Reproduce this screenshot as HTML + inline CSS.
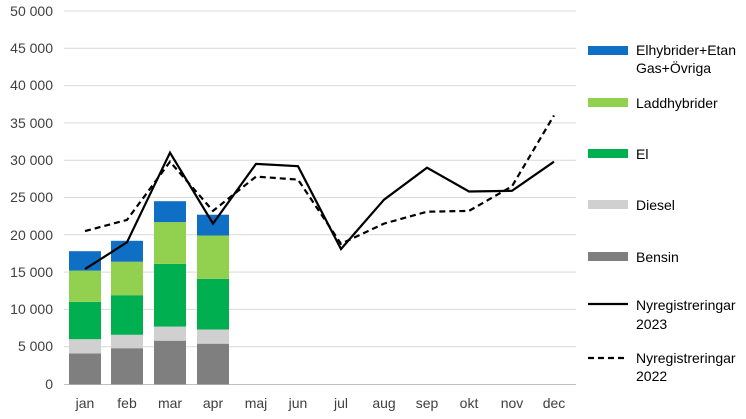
<!DOCTYPE html>
<html><head><meta charset="utf-8"><style>body{margin:0;background:#fff}svg{display:block;font-family:"Liberation Sans",Arial,sans-serif}</style></head><body>
<svg width="746" height="419" viewBox="0 0 746 419">
<g stroke="#d9d9d9" stroke-width="1">
<line x1="64" x2="576" y1="11" y2="11"/><line x1="64" x2="576" y1="48.3" y2="48.3"/><line x1="64" x2="576" y1="85.6" y2="85.6"/><line x1="64" x2="576" y1="122.9" y2="122.9"/><line x1="64" x2="576" y1="160.2" y2="160.2"/><line x1="64" x2="576" y1="197.5" y2="197.5"/><line x1="64" x2="576" y1="234.8" y2="234.8"/><line x1="64" x2="576" y1="272.1" y2="272.1"/><line x1="64" x2="576" y1="309.4" y2="309.4"/><line x1="64" x2="576" y1="346.7" y2="346.7"/>
</g>
<line x1="64" x2="576" y1="384.5" y2="384.5" stroke="#bfbfbf"/>
<g font-size="14" fill="#404040" text-anchor="end">
<text x="53" y="16">50 000</text><text x="53" y="53">45 000</text><text x="53" y="90">40 000</text><text x="53" y="128">35 000</text><text x="53" y="165">30 000</text><text x="53" y="202">25 000</text><text x="53" y="240">20 000</text><text x="53" y="277">15 000</text><text x="53" y="314">10 000</text><text x="53" y="351">5 000</text><text x="53" y="389">0</text>
</g>
<g font-size="14" fill="#404040" text-anchor="middle">
<text x="85" y="408">jan</text><text x="127" y="408">feb</text><text x="170" y="408">mar</text><text x="213" y="408">apr</text><text x="256" y="408">maj</text><text x="298" y="408">jun</text><text x="341" y="408">jul</text><text x="384" y="408">aug</text><text x="427" y="408">sep</text><text x="469" y="408">okt</text><text x="512" y="408">nov</text><text x="554" y="408">dec</text>
</g>
<g>
<rect x="69" y="353.4" width="32" height="31" fill="#7f7f7f"/><rect x="69" y="339.2" width="32" height="14.2" fill="#d0d0d0"/><rect x="69" y="301.9" width="32" height="37.3" fill="#00b050"/><rect x="69" y="270.6" width="32" height="31.3" fill="#92d050"/><rect x="69" y="251.2" width="32" height="19.4" fill="#0e6fc5"/>
<rect x="111" y="348.2" width="32" height="36.2" fill="#7f7f7f"/><rect x="111" y="334.8" width="32" height="13.4" fill="#d0d0d0"/><rect x="111" y="295.2" width="32" height="39.6" fill="#00b050"/><rect x="111" y="261.7" width="32" height="33.5" fill="#92d050"/><rect x="111" y="240.8" width="32" height="20.9" fill="#0e6fc5"/>
<rect x="154" y="340.7" width="32" height="43.7" fill="#7f7f7f"/><rect x="154" y="326.6" width="32" height="14.1" fill="#d0d0d0"/><rect x="154" y="263.9" width="32" height="62.7" fill="#00b050"/><rect x="154" y="222.1" width="32" height="41.8" fill="#92d050"/><rect x="154" y="201.2" width="32" height="20.9" fill="#0e6fc5"/>
<rect x="197" y="343.7" width="32" height="40.7" fill="#7f7f7f"/><rect x="197" y="329.5" width="32" height="14.2" fill="#d0d0d0"/><rect x="197" y="278.8" width="32" height="50.7" fill="#00b050"/><rect x="197" y="235.5" width="32" height="43.3" fill="#92d050"/><rect x="197" y="214.7" width="32" height="20.8" fill="#0e6fc5"/>
</g>
<polyline fill="none" stroke="#000" stroke-width="2.2" stroke-dasharray="6,4" points="85,231.1 127,219.9 170,161.7 213,210.9 256,176.6 298,179.6 341,243.8 384,223.6 427,211.7 469,210.9 512,186.3 554,115.4"/>
<polyline fill="none" stroke="#000" stroke-width="2.2" points="85,269.1 127,242.3 170,152.7 213,223.6 256,163.9 298,166.2 341,249 384,199.7 427,167.7 469,191.5 512,190.8 554,161.7"/>
<g font-size="14" fill="#000">
<rect x="588" y="46" width="40" height="9" fill="#0e6fc5"/><text x="636" y="55">Elhybrider+Etan</text><text x="636" y="73">Gas+Övriga</text>
<rect x="588" y="98" width="40" height="9" fill="#92d050"/><text x="636" y="108">Laddhybrider</text>
<rect x="588" y="149" width="40" height="9" fill="#00b050"/><text x="636" y="159">El</text>
<rect x="588" y="200" width="40" height="9" fill="#d0d0d0"/><text x="636" y="210">Diesel</text>
<rect x="588" y="252" width="40" height="9" fill="#7f7f7f"/><text x="636" y="262">Bensin</text>
<line x1="588" x2="628" y1="304" y2="304" stroke="#000" stroke-width="2.2"/><text x="636" y="310">Nyregistreringar</text><text x="636" y="329">2023</text>
<line x1="588" x2="628" y1="358" y2="358" stroke="#000" stroke-width="2.2" stroke-dasharray="6,4"/><text x="636" y="363">Nyregistreringar</text><text x="636" y="381">2022</text>
</g>
</svg>
</body></html>
